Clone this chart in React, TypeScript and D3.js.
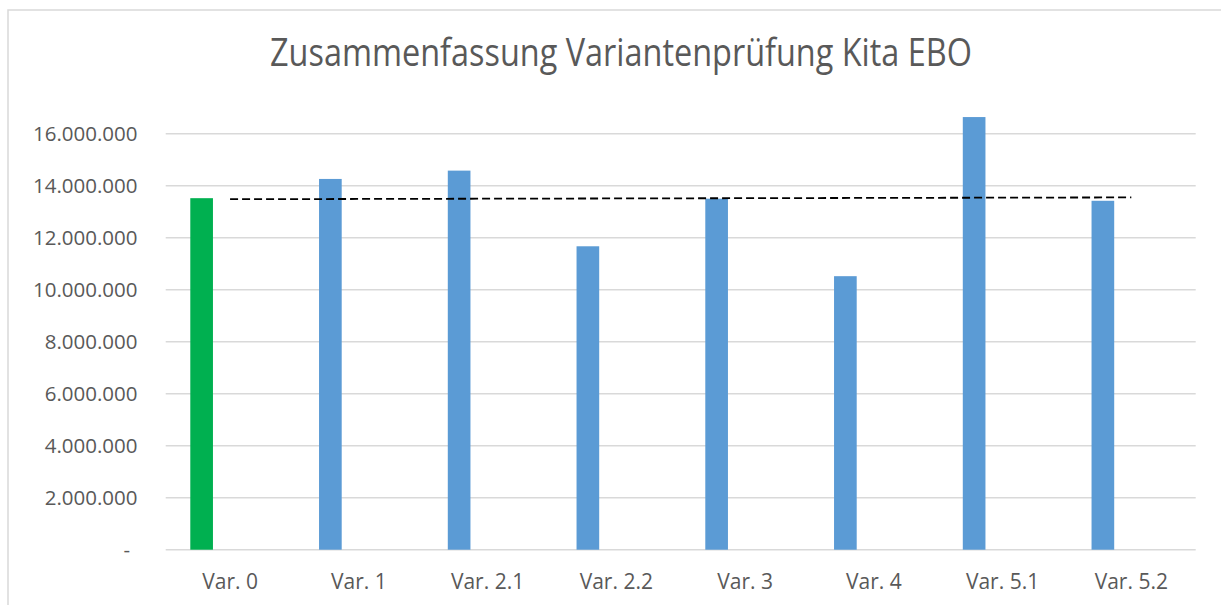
import React, { useEffect, useRef } from 'react'
import * as d3 from 'd3'

// data
const categories = ['Var. 0', 'Var. 1', 'Var. 2.1', 'Var. 2.2', 'Var. 3', 'Var. 4', 'Var. 5.1', 'Var. 5.2']
const costs = [13520000, 14260000, 14580000, 11670000, 13500000, 10520000, 16640000, 13420000]
const barColors = ['#00b050', '#5b9bd5', '#5b9bd5', '#5b9bd5', '#5b9bd5', '#5b9bd5', '#5b9bd5', '#5b9bd5']
const refLine = [13480000, 13550000] // dashed reference from Var. 0 to Var. 5.2
const yTicks = [0, 2000000, 4000000, 6000000, 8000000, 10000000, 12000000, 14000000, 16000000]
const title = 'Zusammenfassung Variantenprüfung Kita EBO'

const App = () => {
    const ref = useRef<SVGSVGElement>(null)
    const width = 1221
    const height = 605

    useEffect(() => {
        const svg = d3.select(ref.current)
        svg.selectAll('*').remove()

        const left = 165.7
        const right = 1195.7
        const bottom = 549.7

        const x = d3.scaleBand().domain(categories).range([left, right]).padding(0)
        const y = d3.scaleLinear().domain([0, 17000000]).range([bottom, 107.7])

        const textColor = '#595959'
        const font = "'Open Sans', sans-serif"

        // chart frame
        svg.append('rect')
            .attr('x', 8).attr('y', 10)
            .attr('width', 1240).attr('height', 620)
            .attr('fill', '#fff')
            .attr('stroke', '#d9d9d9')
            .attr('stroke-width', 1.5)

        // title
        svg.append('text')
            .attr('x', 270).attr('y', 65.7)
            .attr('textLength', 702)
            .attr('lengthAdjust', 'spacingAndGlyphs')
            .attr('font-family', font)
            .attr('font-size', 38)
            .attr('fill', textColor)
            .text(title)

        // gridlines
        svg.append('g')
            .selectAll('line')
            .data(yTicks)
            .join('line')
            .attr('x1', left).attr('x2', right)
            .attr('y1', d => y(d)).attr('y2', d => y(d))
            .attr('stroke', '#d9d9d9')
            .attr('stroke-width', 1.5)

        // y labels
        const fmt = (v: number) => v === 0 ? '-' : d3.format(',')(v).replace(/,/g, '.')
        svg.append('g')
            .attr('font-family', font)
            .attr('font-size', 20.5)
            .attr('fill', textColor)
            .attr('text-anchor', 'end')
            .selectAll('text')
            .data(yTicks)
            .join('text')
            .attr('x', d => d === 0 ? 130 : 137.5)
            .attr('y', d => y(d) + 7)
            .text(fmt)

        // bars
        const bw = x.bandwidth()
        svg.append('g')
            .selectAll('rect')
            .data(costs)
            .join('rect')
            .attr('x', (d, i) => x(categories[i])! + bw * 0.191)
            .attr('width', bw * 0.176)
            .attr('y', d => y(d))
            .attr('height', d => bottom - y(d))
            .attr('fill', (d, i) => barColors[i])

        // dashed reference line
        const line = d3.line<number>()
            .x((d, i) => x(categories[i === 0 ? 0 : categories.length - 1])! + bw / 2)
            .y(d => y(d))
        svg.append('path')
            .attr('d', line(refLine))
            .attr('fill', 'none')
            .attr('stroke', '#000')
            .attr('stroke-width', 1.8)
            .attr('stroke-dasharray', '8,4')

        // x labels
        svg.append('g')
            .attr('font-family', font)
            .attr('font-size', 21)
            .attr('fill', textColor)
            .attr('text-anchor', 'middle')
            .selectAll('text')
            .data(categories)
            .join('text')
            .attr('x', d => x(d)! + bw / 2)
            .attr('y', 588.5)
            .text(d => d)
    }, [])

    return (
        <svg ref={ref} width={width} height={height}
            style={{ position: 'absolute', left: 0, top: 0, background: '#fff' }} />
    )
}

export default App
